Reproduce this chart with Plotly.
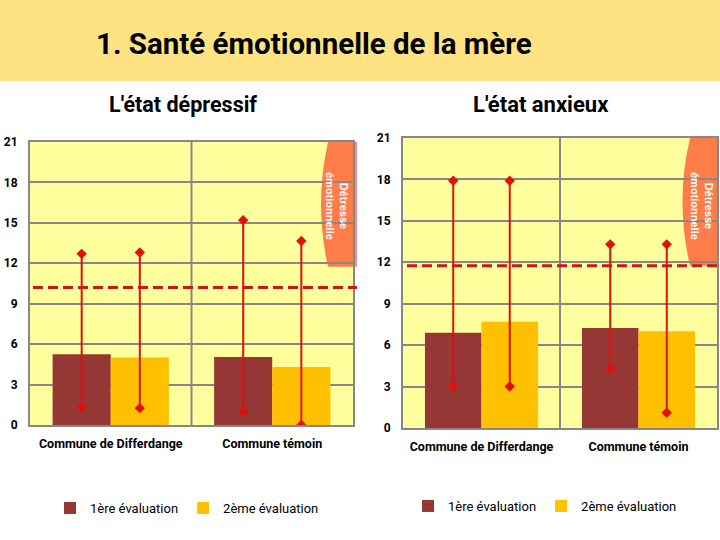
import plotly.graph_objects as go

# ---------------- data ----------------
categories = ["Commune de Differdange", "Commune témoin"]
series_names = ["1ère évaluation", "2ème évaluation"]

# L'état dépressif
dep_mean_1 = [5.25, 5.05]
dep_mean_2 = [5.0, 4.3]
dep_max_1 = [12.7, 15.2]
dep_min_1 = [1.3, 1.0]
dep_max_2 = [12.8, 13.65]
dep_min_2 = [1.25, 0.0]
dep_threshold = 10.2

# L'état anxieux
anx_mean_1 = [6.9, 7.25]
anx_mean_2 = [7.7, 7.0]
anx_max_1 = [17.9, 13.3]
anx_min_1 = [3.0, 4.3]
anx_max_2 = [17.9, 13.3]
anx_min_2 = [3.0, 1.1]
anx_threshold = 11.75
distress_floor = 11.75

y_ticks = [0, 3, 6, 9, 12, 15, 18, 21]

title_text = "1. Santé émotionnelle de la mère"
subtitle_left = "L'état dépressif"
subtitle_right = "L'état anxieux"
distress_label = "Détresse<br>émotionnelle"

# ---------------- style ----------------
FONT = "Roboto, Lato, Open Sans, sans-serif"
C1 = "#953735"
C2 = "#FFC000"
RED = "#E0100A"
DASH_RED = "#D41414"
GRID = "#878787"
BG = "#FFFF9E"
ORANGE = "#FF7C4B"
PINK = "#EE8E8E"
BAND = "#FFE383"

fig = go.Figure()

panels = [
    dict(xa="x", ya="y", legend="legend",
         m1=dep_mean_1, m2=dep_mean_2, mx1=dep_max_1, mn1=dep_min_1,
         mx2=dep_max_2, mn2=dep_min_2),
    dict(xa="x2", ya="y2", legend="legend2",
         m1=anx_mean_1, m2=anx_mean_2, mx1=anx_max_1, mn1=anx_min_1,
         mx2=anx_max_2, mn2=anx_min_2),
]

for p in panels:
    for name, mean, col, grp in [
        (series_names[0], p["m1"], C1, "a"),
        (series_names[1], p["m2"], C2, "b"),
    ]:
        fig.add_trace(go.Bar(
            x=categories, y=mean, name=name, marker=dict(color=col, line=dict(width=0)),
            offsetgroup=grp, xaxis=p["xa"], yaxis=p["ya"], legend=p["legend"],
            hoverinfo="skip"))
    for mx, mn, grp in [(p["mx1"], p["mn1"], "a"), (p["mx2"], p["mn2"], "b")]:
        fig.add_trace(go.Scatter(
            x=categories, y=mx, mode="markers", offsetgroup=grp,
            marker=dict(symbol="diamond", size=8, color=RED),
            error_y=dict(type="data", symmetric=False, array=[0] * len(mx),
                         arrayminus=[a - b for a, b in zip(mx, mn)],
                         color=RED, thickness=2, width=0),
            xaxis=p["xa"], yaxis=p["ya"], showlegend=False, hoverinfo="skip"))
        fig.add_trace(go.Scatter(
            x=categories, y=mn, mode="markers", offsetgroup=grp,
            marker=dict(symbol="diamond", size=8, color=RED),
            xaxis=p["xa"], yaxis=p["ya"], showlegend=False, hoverinfo="skip"))

W, H = 720, 540
def px(x):
    return x / W
def py(y):
    return 1 - y / H

xaxis_common = dict(type="category", showgrid=False, showline=True, linecolor=GRID,
                    linewidth=2, mirror=True, ticks="", ticklabelstandoff=6,
                    tickfont=dict(family=FONT, size=12.5, color="black", weight="bold"),
                    range=[-0.5, 1.5], fixedrange=True, automargin=False)
yaxis_common = dict(range=[0, 21], tickvals=y_ticks, showgrid=True, gridcolor=GRID,
                    gridwidth=2, showline=True, linecolor=GRID, linewidth=2, mirror=True,
                    ticks="", ticklabelstandoff=8, zeroline=False,
                    tickfont=dict(family=FONT, size=12, color="black", weight="bold"),
                    fixedrange=True, automargin=False)

shapes = [
    dict(type="rect", xref="paper", yref="paper", x0=0, x1=1, y0=py(81), y1=1,
         fillcolor=BAND, line=dict(width=0), layer="below"),
    # dividers
    dict(type="line", xref="x", yref="y domain", x0=0.5, x1=0.5, y0=0, y1=1,
         line=dict(color=GRID, width=2), layer="below"),
    dict(type="line", xref="x2", yref="y2 domain", x0=0.5, x1=0.5, y0=0, y1=1,
         line=dict(color=GRID, width=2), layer="below"),
]

# distress zones (paper x, data y)
def distress(xt, xc, xr, xstrip, yref):
    ymid = (21 + distress_floor) / 2
    path = (f"M {px(xt)},21 L {px(xr)},21 L {px(xr)},{distress_floor} "
            f"L {px(xt)},{distress_floor} Q {px(xc)},{ymid} {px(xt)},21 Z")
    out = [dict(type="path", xref="paper", yref=yref, path=path,
                fillcolor=ORANGE, line=dict(width=0), layer="below")]
    if xstrip:
        out.append(dict(type="rect", xref="paper", yref=yref, x0=px(xr), x1=px(xstrip),
                        y0=distress_floor, y1=21, fillcolor=PINK, line=dict(width=0),
                        layer="below"))
    return out

shapes += distress(328, 314, 353, 357, "y")
shapes += distress(690, 675, 717, None, "y2")

# thresholds
shapes += [
    dict(type="line", xref="paper", yref="y", x0=px(33), x1=px(357),
         y0=dep_threshold, y1=dep_threshold,
         line=dict(color=DASH_RED, width=3, dash="10px,5px"), layer="above"),
    dict(type="line", xref="paper", yref="y2", x0=px(407), x1=1,
         y0=anx_threshold, y1=anx_threshold,
         line=dict(color=DASH_RED, width=3, dash="10px,5px"), layer="above"),
]

annotations = [
    dict(text=title_text, xref="paper", yref="paper", x=px(94), y=py(44),
         xanchor="left", yanchor="middle", showarrow=False,
         font=dict(family=FONT, size=29.5, color="black", weight="bold")),
    dict(text=subtitle_left, xref="paper", yref="paper", x=px(183), y=py(105),
         xanchor="center", yanchor="middle", showarrow=False,
         font=dict(family=FONT, size=21.5, color="black", weight="bold")),
    dict(text=subtitle_right, xref="paper", yref="paper", x=px(541), y=py(104),
         xanchor="center", yanchor="middle", showarrow=False,
         font=dict(family=FONT, size=22, color="black", weight="bold")),
    dict(text=distress_label, xref="paper", yref="paper", x=px(337), y=py(206),
         xanchor="center", yanchor="middle", showarrow=False, textangle=90,
         font=dict(family="Liberation Sans, Arial, sans-serif", size=11, color="white",
                   weight="bold")),
    dict(text=distress_label, xref="paper", yref="paper", x=px(702), y=py(206),
         xanchor="center", yanchor="middle", showarrow=False, textangle=90,
         font=dict(family="Liberation Sans, Arial, sans-serif", size=11, color="white",
                   weight="bold")),
]

legend_common = dict(orientation="h", bgcolor="rgba(0,0,0,0)", yanchor="middle",
                     xanchor="left", font=dict(family=FONT, size=13, color="black"),
                     itemwidth=30, tracegroupgap=0)

fig.update_layout(
    width=W, height=H, margin=dict(l=0, r=0, t=0, b=0, autoexpand=False),
    paper_bgcolor="white", plot_bgcolor=BG,
    barmode="group", bargap=0.28, bargroupgap=0,
    scattermode="group", scattergap=0.28,
    xaxis=dict(domain=[px(30), px(353)], anchor="y", **xaxis_common),
    yaxis=dict(domain=[py(425), py(142)], anchor="x", **yaxis_common),
    xaxis2=dict(domain=[px(403), px(717)], anchor="y2", **xaxis_common),
    yaxis2=dict(domain=[py(428), py(138)], anchor="x2", **yaxis_common),
    legend=dict(x=px(50), y=py(508), **legend_common),
    legend2=dict(x=px(408), y=py(506), **legend_common),
    shapes=shapes, annotations=annotations,
    showlegend=True,
)

fig.write_html("out.html", config={"displayModeBar": False},
               post_script="document.body.style.margin='0';")
